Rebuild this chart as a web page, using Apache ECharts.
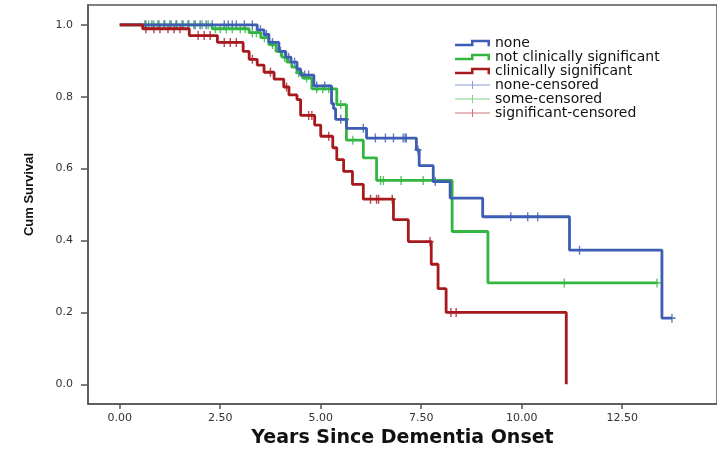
<!DOCTYPE html>
<html>
<head>
<meta charset="utf-8">
<script src="https://cdn.jsdelivr.net/npm/echarts@6/dist/echarts.min.js"></script>
<style>
  html, body { margin: 0; padding: 0; background: #fff; }
  #pic { width: 717px; height: 453px; }
</style>
</head>
<body>
<div id="pic"></div>
<script>
// Kaplan-Meier steps: event time (years) and survival after the drop
var noneTimes = [0, 3.42, 3.59, 3.71, 3.96, 4.13, 4.26, 4.41, 4.50, 4.83, 5.27, 5.32, 5.37, 5.64, 6.14, 7.38, 7.45, 7.80, 8.22, 9.03, 11.19, 13.49, 13.74];
var noneSurv = [1.0, 0.986, 0.973, 0.951, 0.926, 0.910, 0.896, 0.877, 0.860, 0.830, 0.781, 0.767, 0.737, 0.712, 0.685, 0.652, 0.608, 0.564, 0.518, 0.466, 0.373, 0.184, 0.184];

var someTimes = [0, 2.30, 3.22, 3.51, 3.71, 3.89, 4.03, 4.16, 4.28, 4.41, 4.55, 4.78, 5.40, 5.64, 6.06, 6.39, 8.27, 9.16, 13.37];
var someSurv = [1.0, 0.989, 0.978, 0.964, 0.945, 0.926, 0.910, 0.896, 0.882, 0.866, 0.852, 0.822, 0.778, 0.679, 0.630, 0.567, 0.425, 0.282, 0.282];

var sigTimes = [0, 0.57, 1.73, 2.43, 3.07, 3.22, 3.42, 3.59, 3.84, 4.08, 4.21, 4.41, 4.50, 4.85, 5.00, 5.30, 5.40, 5.57, 5.79, 6.06, 6.81, 7.18, 7.75, 7.92, 8.12, 11.11];
var sigSurv = [1.0, 0.989, 0.970, 0.951, 0.926, 0.904, 0.888, 0.868, 0.849, 0.827, 0.805, 0.792, 0.748, 0.721, 0.690, 0.658, 0.625, 0.592, 0.556, 0.515, 0.458, 0.397, 0.334, 0.266, 0.200, 0.0];

// censored times
var noneCens = [0.65, 0.8, 0.95, 1.1, 1.25, 1.4, 1.55, 1.7, 1.85, 2.0, 2.15, 2.3, 2.6, 2.7, 2.8, 2.9, 3.1, 3.3, 3.5, 3.65, 3.8, 4.0, 4.2, 4.35, 4.6, 4.7, 4.9, 5.1, 5.5, 5.62, 6.06, 6.36, 6.61, 6.81, 7.05, 7.1, 7.13, 7.42, 7.85, 9.73, 10.15, 10.4, 11.44, 13.74];
var someCens = [0.62, 0.72, 0.85, 0.98, 1.12, 1.28, 1.42, 1.58, 1.72, 1.88, 2.05, 2.2, 2.38, 2.5, 2.65, 2.8, 3.0, 3.12, 3.3, 3.4, 3.6, 3.8, 4.1, 4.45, 4.65, 4.9, 5.05, 5.2, 5.5, 5.8, 6.49, 6.56, 7.0, 7.55, 11.06, 13.37];
var sigCens = [0.65, 0.85, 1.0, 1.2, 1.35, 1.5, 1.95, 2.1, 2.25, 2.6, 2.75, 2.9, 3.3, 3.75, 4.15, 4.7, 4.78, 5.2, 6.24, 6.39, 6.44, 6.78, 7.72, 8.24, 8.37];

var xTicks = [0, 2.5, 5, 7.5, 10, 12.5];
var yTicks = [0, 0.2, 0.4, 0.6, 0.8, 1.0];

var blue = '#3d5cb3', green = '#33b640', red = '#a8191e';

function pairs(t, s) {
    var out = [];
    for (var i = 0; i < t.length; i++) out.push([t[i], s[i]]);
    return out;
}
function survAt(t, s, x) {
    var v = s[0];
    for (var i = 0; i < t.length; i++) { if (t[i] <= x) v = s[i]; }
    return v;
}
function marks(cens, t, s) {
    return cens.map(function(c) { return [c, survAt(t, s, c)]; });
}

var stepIcon = 'path://M0,4 H16 V0 H35 V6.5 H32.5 V2.5 H18.5 V6.5 H0 Z';
var censIcon = 'path://M0,3.5 H17 V0 H18 V3.5 H35 V4.5 H18 V8 H17 V4.5 H0 Z';
var plus = 'path://M4,0 H6 V4 H10 V6 H6 V10 H4 V6 H0 V4 H4 Z';

var myChart = echarts.init(document.getElementById('pic'));
var option = {
    animation: false,
    backgroundColor: '#fff',
    grid: {
        left: 88, right: -2, top: 5, bottom: 43,
        show: true, borderColor: '#555', borderWidth: 1.5
    },
    legend: {
        orient: 'vertical',
        left: 450, top: 31,
        itemWidth: 35, itemHeight: 8, itemGap: 0,
        textStyle: { fontFamily: 'DejaVu Sans', fontSize: 14, color: '#111' },
        itemStyle: { borderWidth: 0 },
        data: [
            { name: 'none', icon: stepIcon },
            { name: 'not clinically significant', icon: stepIcon },
            { name: 'clinically significant', icon: stepIcon },
            { name: 'none-censored', icon: censIcon, itemStyle: { opacity: 0.6 } },
            { name: 'some-censored', icon: censIcon, itemStyle: { opacity: 0.6 } },
            { name: 'significant-censored', icon: censIcon, itemStyle: { opacity: 0.6 } }
        ]
    },
    xAxis: {
        type: 'value',
        min: -0.79, max: 14.86,
        name: 'Years Since Dementia Onset',
        nameLocation: 'middle', nameGap: 21,
        nameTextStyle: { fontFamily: 'DejaVu Sans', fontWeight: 'bold', fontSize: 19, color: '#111' },
        splitLine: { show: false },
        axisLine: { onZero: false, lineStyle: { color: '#555', width: 1.5 } },
        axisTick: { length: 5, customValues: xTicks, lineStyle: { color: '#555', width: 1.5 } },
        axisLabel: {
            customValues: xTicks, margin: 9,
            fontFamily: 'DejaVu Sans', fontSize: 11, color: '#333',
            formatter: function(v) { return v.toFixed(2); }
        }
    },
    yAxis: {
        type: 'value',
        min: -0.055, max: 1.055,
        name: 'Cum Survival',
        nameLocation: 'middle', nameGap: 52,
        nameTextStyle: {
            fontFamily: '"Liberation Sans Narrow", "Liberation Sans", sans-serif',
            fontWeight: 'bold', fontSize: 13, color: '#111', padding: [0, 0, 0, 20]
        },
        splitLine: { show: false },
        axisLine: { onZero: false, lineStyle: { color: '#555', width: 1.5 } },
        axisTick: { length: 7, customValues: yTicks, lineStyle: { color: '#555', width: 1.5 } },
        axisLabel: {
            customValues: yTicks, margin: 15,
            fontFamily: 'DejaVu Sans', fontSize: 11, color: '#333',
            formatter: function(v) { return v.toFixed(1); }
        }
    },
    series: [{
        name: 'not clinically significant', type: 'line', step: 'end',
        showSymbol: false, color: green,
        lineStyle: { width: 2.8, color: green },
        data: pairs(someTimes, someSurv)
    }, {
        name: 'none', type: 'line', step: 'end',
        showSymbol: false, color: blue,
        lineStyle: { width: 2.8, color: blue },
        data: pairs(noneTimes, noneSurv)
    }, {
        name: 'clinically significant', type: 'line', step: 'end',
        showSymbol: false, color: red,
        lineStyle: { width: 2.8, color: red },
        data: pairs(sigTimes, sigSurv)
    }, {
        name: 'some-censored', type: 'scatter', symbol: plus, symbolSize: [7, 9],
        color: green, data: marks(someCens, someTimes, someSurv)
    }, {
        name: 'none-censored', type: 'scatter', symbol: plus, symbolSize: [7, 9],
        color: blue, data: marks(noneCens, noneTimes, noneSurv)
    }, {
        name: 'significant-censored', type: 'scatter', symbol: plus, symbolSize: [7, 9],
        color: red, data: marks(sigCens, sigTimes, sigSurv)
    }]
};
myChart.setOption(option);
</script>
</body>
</html>
